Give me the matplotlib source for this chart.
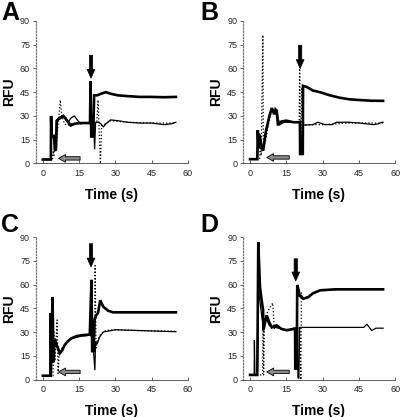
import matplotlib
matplotlib.use("Agg")
import matplotlib.pyplot as plt

plt.rcParams['font.family'] = ['Liberation Sans', 'DejaVu Sans']

# traces: (time s, RFU)
A_thick = [(0, 2.5), (3.3, 2.5), (3.4, 30), (3.6, 17), (4.6, 17), (5.0, 8), (5.4, 9), (5.8, 27),
           (6.5, 28), (7.5, 29), (8.5, 30), (10, 27), (11.5, 24), (13, 25), (15, 25.5), (17, 25.5),
           (19.5, 25.5), (19.7, 52), (20.0, 17), (20.8, 17), (21.2, 43), (22.5, 43), (24, 44),
           (26, 45), (28, 44), (31, 43), (35, 42.5), (40, 42), (45, 42), (50, 41.8), (55, 42)]
A_thin = [(0, 2.5), (3.3, 2.5), (3.5, 17), (4.5, 18), (5.2, 10), (5.5, 27), (6.5, 29), (8, 30),
          (9.5, 29), (10.5, 26), (11.5, 28.5), (13, 30), (14, 28), (15.5, 25), (17, 25.5), (19.5, 26),
          (21, 26), (21.4, 9), (21.8, 26), (23, 26), (24, 25), (25, 23), (26, 25), (28, 27.5),
          (31, 27), (35, 26), (40, 25.5), (45, 25.5), (50, 24.5), (53, 25), (55, 26)]
A_dot = [(0, 2.5), (4.0, 2.5), (4.2, 8), (4.6, 5), (5.0, 18), (5.5, 10), (6.0, 20), (7.2, 40),
         (7.8, 30), (9, 25), (10, 24), (12, 25), (14, 25), (17, 25.5), (20, 25.5), (22.3, 26),
         (22.8, 40), (23.3, 20), (23.8, 0), (24.3, 24), (26, 25), (28, 27), (35, 26), (45, 25.5),
         (55, 25.5)]

B_thick = [(0, 2.7), (3.0, 2.7), (3.2, 21), (3.5, 10), (4.0, 18), (4.5, 12), (5.4, 8), (6.5, 20),
           (8, 30), (9, 35), (10, 31), (10.5, 34), (11, 33), (11.5, 25), (13, 26.5), (15, 27),
           (18, 26), (20.6, 26), (20.7, 6), (21.8, 6), (21.9, 49), (23.4, 48.3), (26, 46),
           (28.8, 45), (33, 43), (37, 41.5), (41, 40.5), (45.5, 40), (50, 39.6), (55, 39.5)]
B_thin = [(0, 2.7), (3.0, 2.7), (3.3, 15), (3.8, 19), (4.5, 14), (5.5, 9), (7, 22), (8.5, 33),
          (9.5, 34), (10.5, 32), (11.2, 34), (11.8, 24), (14, 26), (17, 26), (20.5, 26), (21.2, 8),
          (21.8, 25), (22.5, 24.2), (26, 24.5), (28, 26), (31, 24.5), (34, 24.5), (35.7, 26),
          (41, 26), (45.5, 25.5), (51, 24.5), (53, 25), (54.5, 26), (55, 26)]
B_dot = [(0, 2.7), (4.0, 2.7), (4.2, 18), (4.6, 5), (5.3, 81), (5.5, 10), (6.5, 15), (8, 28),
         (9, 33), (10.5, 33), (12, 27), (15, 26), (20.3, 26), (20.5, 62), (20.9, 7), (21.4, 48),
         (22, 26), (23, 24.5), (30, 24.5), (40, 25.5), (55, 25.5)]

C_thick = [(0, 2.5), (3.3, 2.5), (4.0, 52), (4.4, 11), (4.8, 25), (5.5, 22), (6.2, 20), (7.0, 16.6),
           (8, 18.5), (9, 21.9), (10.5, 24.5), (11.8, 26.1), (14, 27.5), (16, 28), (19.4, 28.5),
           (20.1, 63), (20.4, 18), (21.0, 18), (21.4, 38), (22, 40.6), (22.8, 42), (23.7, 50.1),
           (25, 46), (27, 43.5), (29, 42.5), (35, 42.5), (45, 42.5), (55, 42.5)]
C_thin = [(0, 2.5), (2.8, 2.5), (2.9, 42), (3.2, 20), (3.6, 25), (4.2, 30), (4.6, 20), (5.2, 26),
          (6, 22), (7.0, 17), (8, 19), (9, 22), (11.8, 26), (16, 27.5), (19.4, 28), (20.5, 27),
          (21.5, 6), (21.8, 24), (22.5, 22.7), (23.5, 27), (25, 30.1), (30, 31.5), (40, 31),
          (50, 30.5), (55, 30.3)]
C_dot = [(0, 2.5), (4.2, 2.5), (4.5, 30), (5.0, 12), (5.9, 37.7), (6.3, 4), (6.8, 18), (8, 20),
         (10, 24), (14, 27.5), (19, 28.5), (21.4, 27), (21.6, 72), (22.0, 20), (22.6, 25),
         (24, 29), (26, 31), (30, 31.5), (40, 31), (55, 30.5)]

D_thick = [(0, 3), (3.0, 3), (3.4, 86.7), (4.1, 58.5), (4.8, 50), (5.4, 43.8), (5.5, 31.2),
           (6.9, 40.6), (8, 36), (9, 33), (11, 34.3), (13, 32), (15.2, 31.2), (18, 32),
           (18.6, 32), (18.7, 7), (19.3, 7), (19.5, 59.7), (20, 57), (20.5, 53), (22, 51.1),
           (24, 52), (26, 54.5), (29, 56.4), (35, 57), (40, 57), (47, 57), (55, 57)]
D_thin = [(0, 3), (1.7, 3), (1.8, 25), (2.0, 3), (3.0, 3), (3.3, 80), (3.6, 55), (4.2, 48),
          (5.0, 38), (5.6, 35), (6.9, 38), (8, 34), (10, 33), (12, 32.5), (15, 31), (18, 32.5),
          (19.7, 33), (19.8, 1), (20.2, 1), (20.5, 33), (22, 33), (30, 33), (40, 33), (47, 33),
          (48.3, 35), (49.3, 33), (50.3, 31), (52, 32.5), (55, 32.5)]
D_dot = [(0, 3), (5.2, 3), (5.4, 40), (5.6, 3), (6.0, 38), (7.0, 42), (8, 45), (9.4, 48.4),
         (10, 32), (11, 34), (14, 31.5), (18, 32), (20.5, 33), (21.0, 0), (21.2, 55), (22, 51),
         (26, 54.5), (30, 56.5), (40, 57), (55, 57)]

# arrows: black (time, top, tip), gray (y, tail x, tip x)
black_arrows = [(19.9, 68.3, 53.8), (20.7, 74.6, 59.9), (19.9, 85.8, 71.1), (18.9, 76.3, 62.3)]
gray_arrows = [(3.2, 15.4, 6.5), (3.8, 16.2, 6.9), (4.9, 15.4, 6.5), (4.9, 16.2, 6.9)]

panels = [('A', A_thick, A_thin, A_dot), ('B', B_thick, B_thin, B_dot),
          ('C', C_thick, C_thin, C_dot), ('D', D_thick, D_thin, D_dot)]

fig = plt.figure(figsize=(4, 4.17), dpi=100)
positions = [[0.089, 0.608, 0.381, 0.342], [0.607, 0.608, 0.381, 0.342],
             [0.089, 0.0895, 0.381, 0.342], [0.607, 0.0895, 0.381, 0.342]]
letter_pos = [(0.003, 0.998), (0.5, 0.998), (0.003, 0.489), (0.5, 0.489)]

for i, (name, thick, thin, dot) in enumerate(panels):
    ax = fig.add_axes(positions[i])
    for pts, lw, ls in [(dot, 0.9, ':'), (thin, 0.9, '-'), (thick, 1.9, '-')]:
        ax.plot([p[0] for p in pts], [p[1] for p in pts], color='black', lw=lw, ls=ls,
                solid_joinstyle='miter')
    bx, btop, btip = black_arrows[i]
    ax.annotate('', xy=(bx, btip), xytext=(bx, btop),
                arrowprops=dict(arrowstyle='simple,tail_width=0.3,head_width=0.7,head_length=0.8',
                                mutation_scale=8, fc='black', ec='black', lw=0.5,
                                shrinkA=0, shrinkB=0))
    gy, gtail, gtip = gray_arrows[i]
    ax.annotate('', xy=(gtip, gy), xytext=(gtail, gy),
                arrowprops=dict(arrowstyle='simple,tail_width=0.35,head_width=0.8,head_length=0.7',
                                mutation_scale=7, fc='#8a8a8a', ec='black', lw=0.6,
                                shrinkA=0, shrinkB=0))
    ax.set_xlim(-3, 60)
    ax.set_ylim(0, 90)
    ax.set_xticks([0, 15, 30, 45, 60])
    ax.set_yticks([0, 15, 30, 45, 60, 75, 90])
    ax.tick_params(labelsize=6.5, length=2, width=0.5, pad=2, colors='#222222')
    ax.tick_params(axis='x', direction='in', pad=4)
    for s in ['top', 'right']:
        ax.spines[s].set_visible(False)
    ax.spines['left'].set_linestyle((0, (1, 1.5)))
    ax.spines['left'].set_color('#777777')
    ax.spines['left'].set_linewidth(0.9)
    ax.spines['bottom'].set_linewidth(0.6)
    ax.spines['bottom'].set_color('#444444')
    ax.spines['bottom'].set_bounds(-3, 60)
    ax.set_ylabel('RFU', fontsize=10, fontweight='bold', labelpad=3)
    ax.set_xlabel('Time (s)', fontsize=10, fontweight='bold', labelpad=7)
    fig.text(letter_pos[i][0], letter_pos[i][1], name, fontsize=18, fontweight='bold',
             va='top', ha='left')

fig.savefig('out.png', dpi=100)
